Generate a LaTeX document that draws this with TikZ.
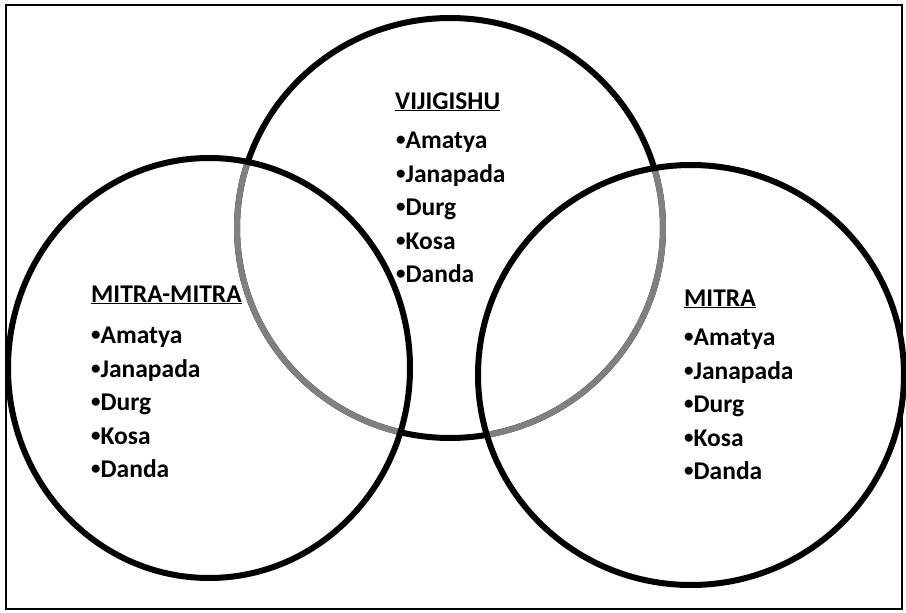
\documentclass[tikz,border=0pt]{standalone}
\usepackage{fontspec}
\setmainfont{Carlito}
\usetikzlibrary{positioning}

\newcommand\itm{\raisebox{3pt}{\fontsize{19}{19}\selectfont•}}

\tikzset{
  ring/.style={line width=6pt},
  title/.style={font=\bfseries\fontsize{25.5}{28}\selectfont, inner sep=0pt, anchor=base west},
  items/.style={font=\bfseries\fontsize{25.5}{33.5}\selectfont, inner sep=0pt, align=left, anchor=north west},
}

\begin{document}
\begin{tikzpicture}[x=1pt, y=-1pt]
  \useasboundingbox (0,0) rectangle (906,613);
  \draw[line width=2.5pt] (6,5) rectangle (902,609);

  % vijigishu ring, grey where it runs inside the other two
  \draw[ring] (450,228) ellipse [x radius=213pt, y radius=210pt];
  \begin{scope}
    \clip (209,368) ellipse [x radius=201pt, y radius=210pt];
    \draw[ring, gray] (450,228) ellipse [x radius=213pt, y radius=210pt];
  \end{scope}
  \begin{scope}
    \clip (691,375) ellipse [x radius=213pt, y radius=210pt];
    \draw[ring, gray] (450,228) ellipse [x radius=213pt, y radius=210pt];
  \end{scope}

  \draw[ring] (209,368) ellipse [x radius=201pt, y radius=210pt];
  \draw[ring] (691,375) ellipse [x radius=213pt, y radius=210pt];

  \node[title] (vijigishu) at (395,109) {\underline{VIJIGISHU}};
  \node[items] (vijlist) at (396,132) {\itm Amatya\\\itm Janapada\\\itm Durg\\\itm Kosa\\\itm Danda};

  \node[title] (mitramitra) at (91,302) {\underline{MITRA-MITRA}};
  \node[items] (mmlist) at (91,327) {\itm Amatya\\\itm Janapada\\\itm Durg\\\itm Kosa\\\itm Danda};

  \node[title] (mitra) at (684,306) {\underline{MITRA}};
  \node[items] (mitralist) at (684,329) {\itm Amatya\\\itm Janapada\\\itm Durg\\\itm Kosa\\\itm Danda};
\end{tikzpicture}
\end{document}
